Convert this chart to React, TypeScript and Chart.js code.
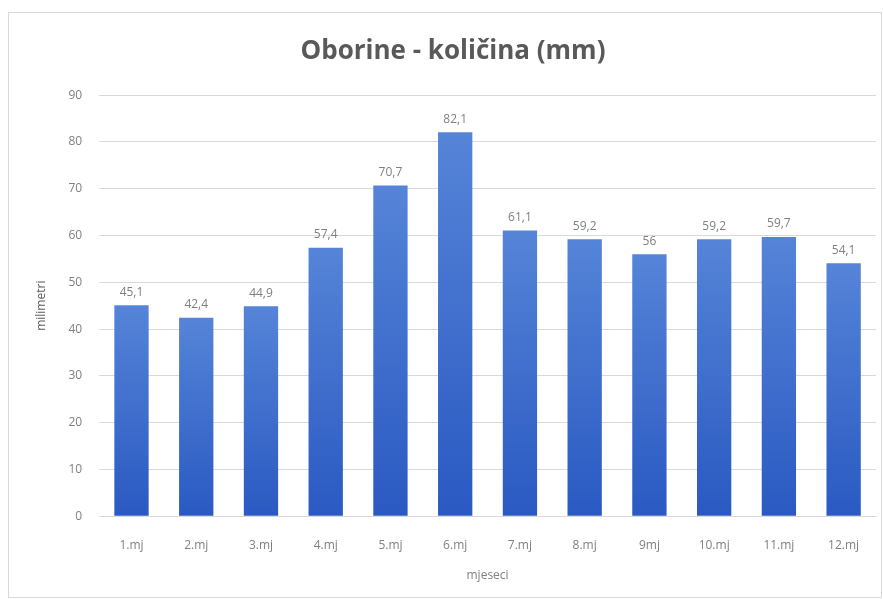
import React, { useEffect, useRef } from "react";
import { Chart, registerables } from "chart.js";

Chart.register(...registerables);

const categories = ["1.mj", "2.mj", "3.mj", "4.mj", "5.mj", "6.mj", "7.mj", "8.mj", "9mj", "10.mj", "11.mj", "12.mj"];
const rainfall = [45.1, 42.4, 44.9, 57.4, 70.7, 82.1, 61.1, 59.2, 56, 59.2, 59.7, 54.1];
const titleText = "Oborine - količina (mm)";
const yTitle = "milimetri";
const xTitle = "mjeseci";

const FONT = "'Open Sans', 'Noto Sans', sans-serif";

const labelPlugin = {
  id: "valueLabels",
  afterDatasetsDraw(chart: any) {
    const ctx = chart.ctx;
    const meta = chart.getDatasetMeta(0);
    ctx.save();
    ctx.font = `12px ${FONT}`;
    ctx.fillStyle = "#7f7f7f";
    ctx.textAlign = "center";
    ctx.textBaseline = "bottom";
    meta.data.forEach((bar: any, i: number) => {
      const v = chart.data.datasets[0].data[i];
      ctx.fillText(String(v).replace(".", ","), bar.x, bar.y - 7);
    });
    ctx.restore();
  },
};

export default function App() {
  const ref = useRef<HTMLCanvasElement>(null);
  useEffect(() => {
    if (!ref.current) return;
    const chart = new Chart(ref.current, {
      type: "bar",
      data: {
        labels: categories,
        datasets: [
          {
            data: rainfall,
            backgroundColor: (c: any) => {
              const ch = c.chart;
              const area = ch.chartArea;
              if (!area || c.dataIndex === undefined) return "#3a6acb";
              const y = ch.scales.y;
              const top = y.getPixelForValue(c.raw);
              const base = y.getPixelForValue(0);
              const g = ch.ctx.createLinearGradient(0, top, 0, base);
              g.addColorStop(0, "#5584d8");
              g.addColorStop(1, "#2a59c2");
              return g;
            },
            borderWidth: 0,
            barPercentage: 0.53,
            categoryPercentage: 1,
          },
        ],
      },
      options: {
        animation: false,
        responsive: false,
        devicePixelRatio: 1,
        layout: { padding: { left: 30, right: 7, top: 10, bottom: 12 } },
        plugins: {
          legend: { display: false },
          tooltip: { enabled: false },
          title: {
            display: true,
            text: titleText,
            color: "#595959",
            font: { family: FONT, size: 26, weight: "bold" },
            padding: { top: 26, bottom: 28 },
          },
        },
        scales: {
          x: {
            grid: { display: false },
            border: { color: "#d9d9d9" },
            ticks: { color: "#7f7f7f", font: { family: FONT, size: 12 }, padding: 14 },
            title: {
              display: true,
              text: xTitle,
              color: "#7f7f7f",
              font: { family: FONT, size: 12 },
              padding: { top: 2 },
            },
          },
          y: {
            min: 0,
            max: 90,
            ticks: { stepSize: 10, color: "#7f7f7f", font: { family: FONT, size: 12 }, padding: 17 },
            grid: { color: "#d9d9d9", drawTicks: false },
            border: { display: false },
            title: {
              display: true,
              text: yTitle,
              color: "#595959",
              font: { family: FONT, size: 12 },
              padding: { bottom: 3 },
            },
          },
        },
      },
      plugins: [labelPlugin],
    });
    return () => chart.destroy();
  }, []);
  return (
    <div style={{ position: "absolute", left: 0, top: 0, width: 883, height: 599, background: "#fff" }}>
      <div
        style={{
          position: "absolute",
          left: 8,
          top: 12,
          width: 874,
          height: 586,
          border: "1px solid #d9d9d9",
          boxSizing: "border-box",
        }}
      />
      <canvas ref={ref} width={883} height={599} style={{ position: "absolute", left: 0, top: 0 }} />
    </div>
  );
}
